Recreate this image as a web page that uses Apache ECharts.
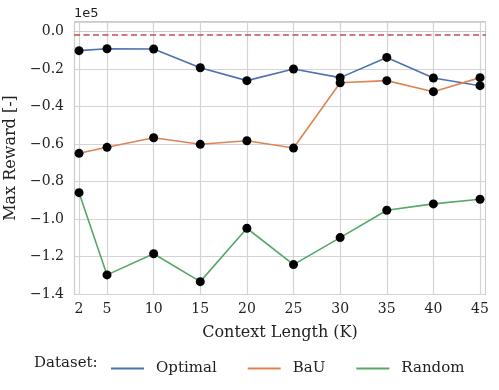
<!DOCTYPE html>
<html><head><meta charset="utf-8">
<script src="https://cdn.jsdelivr.net/npm/echarts@6/dist/echarts.min.js"></script>
<style>html,body{margin:0;padding:0;background:#fff}#c{width:499px;height:390px}</style>
</head><body><div id="c"></div>
<script>
const contextLengths = [2, 5, 10, 15, 20, 25, 30, 35, 40, 45];
const optimal = [-10100, -9100, -9200, -19200, -26100, -19900, -24500, -13700, -24700, -28800];
const bau = [-64900, -61700, -56600, -60100, -58200, -62100, -27200, -26100, -32000, -24500];
const random = [-85900, -129800, -118500, -133400, -104900, -124300, -109900, -95300, -91900, -89400];
const referenceLevel = -1500;
const seriesNames = ['Optimal', 'BaU', 'Random'];
const colors = ['#4c72b0', '#dd8452', '#55a868'];

const serif = 'DejaVu Serif';
const chart = echarts.init(document.getElementById('c'));
const pair = arr => arr.map((v, i) => [contextLengths[i], v]);
const mk = (name, data, color, extra) => Object.assign({
  name, type: 'line', data: pair(data), symbol: 'circle', symbolSize: 9,
  itemStyle: { color: '#000' }, lineStyle: { color, width: 1.6 },
  emphasis: { disabled: true }, z: 3
}, extra || {});

chart.setOption({
  animation: false,
  grid: { left: 74, top: 22, right: 13, bottom: 96, outerBoundsMode: 'none', containLabel: false },
  xAxis: {
    type: 'value', min: 1.46, max: 45.64,
    name: 'Context Length (K)', nameLocation: 'middle', nameGap: 31,
    nameTextStyle: { fontFamily: serif, fontSize: 16, color: '#222' },
    axisLine: { show: true, lineStyle: { color: '#cccccc', width: 1.2 } },
    axisTick: { show: false, customValues: contextLengths },
    axisLabel: { customValues: contextLengths, fontFamily: serif, fontSize: 14, color: '#222', margin: 8 },
    splitLine: { show: true, lineStyle: { color: '#d4d4d4', width: 1.2 } }
  },
  yAxis: {
    type: 'value', min: -140000, max: 5200, interval: 20000,
    name: 'Max Reward [-]', nameLocation: 'middle', nameGap: 49,
    nameTextStyle: { fontFamily: serif, fontSize: 16, color: '#222' },
    axisLine: { show: true, lineStyle: { color: '#cccccc', width: 1.2 } },
    axisTick: { show: false },
    axisLabel: {
      fontFamily: serif, fontSize: 14, color: '#222', margin: 10, showMaxLabel: false,
      formatter: v => { const s = (v / 1e5).toFixed(1); return s.replace('-', '\u2212'); }
    },
    splitLine: { show: true, lineStyle: { color: '#d4d4d4', width: 1.2 } }
  },
  legend: {
    left: 106, top: 356, itemWidth: 33, itemHeight: 2, itemGap: 31, icon: 'rect',
    data: seriesNames.map((n, i) => ({ name: n, itemStyle: { color: colors[i] } })),
    textStyle: { fontFamily: serif, fontSize: 15, color: '#222', padding: [0, 0, 0, 7] }
  },
  graphic: [
    { type: 'text', left: 74, top: 7, style: { text: '1e5', fontFamily: 'DejaVu Sans', fontSize: 13, fill: '#222' } },
    { type: 'rect', shape: { x: 485, y: 22, width: 1, height: 272 }, style: { fill: '#cccccc' }, z: 0 },
    { type: 'rect', shape: { x: 74, y: 21, width: 412, height: 1 }, style: { fill: '#cccccc' }, z: 0 },
    { type: 'text', left: 34, top: 356, style: { text: 'Dataset:', fontFamily: serif, fontSize: 15, fill: '#222' } }
  ],
  series: [
    mk(seriesNames[0], optimal, colors[0], {
      markLine: { silent: true, symbol: 'none', label: { show: false },
        lineStyle: { color: '#c44e52', type: [6, 3.5], width: 1.6 },
        data: [{ yAxis: referenceLevel }] }
    }),
    mk(seriesNames[1], bau, colors[1]),
    mk(seriesNames[2], random, colors[2])
  ]
});
</script></body></html>
